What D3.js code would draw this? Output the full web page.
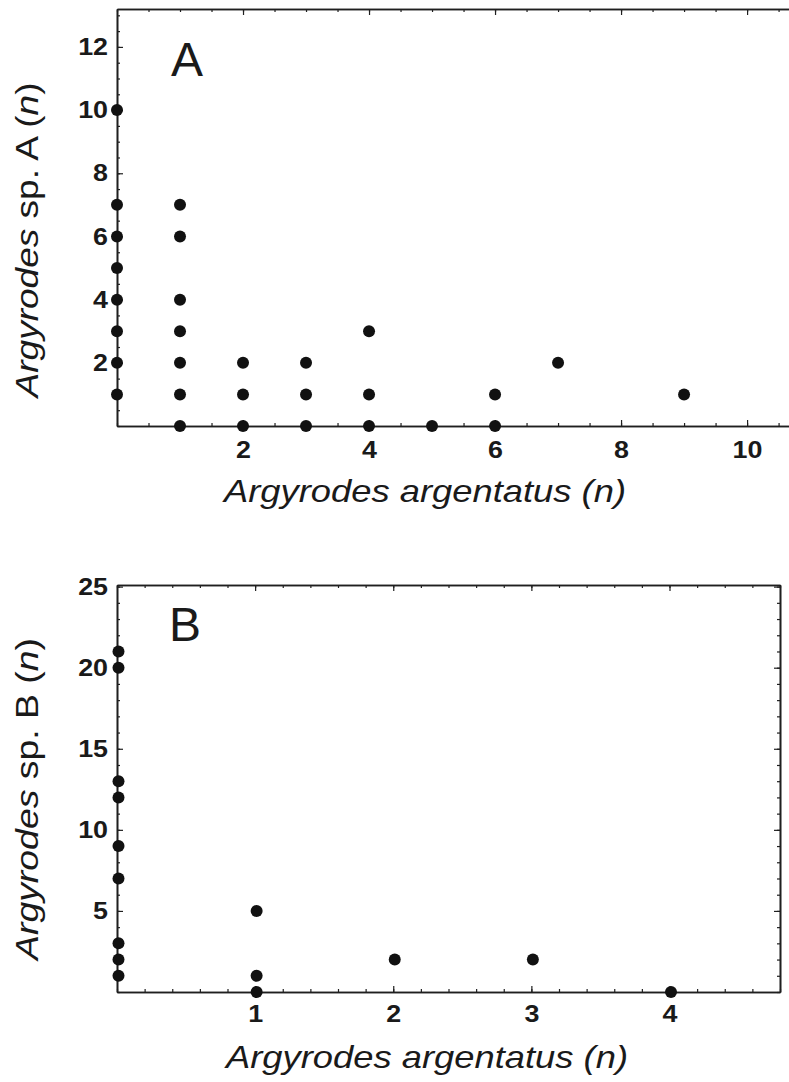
<!DOCTYPE html>
<html>
<head>
<meta charset="utf-8">
<script src="https://cdn.jsdelivr.net/npm/d3@7"></script>
<style>
  html, body { margin: 0; padding: 0; background: #fff; }
  svg { display: block; }
  text { font-family: "Liberation Sans", Arial, Helvetica, sans-serif; fill: #1a1a1a; }
</style>
</head>
<body>
<svg id="fig" width="789" height="1082"></svg>
<script>
// Panel A: counts of A. argentatus vs. Argyrodes sp. A per web
const aArgentatus = [0, 0, 0, 0, 0, 0, 0, 0, 1, 1, 1, 1, 1, 1, 1, 2, 2, 2, 3, 3, 3, 4, 4, 4, 5, 6, 6, 7, 9];
const aSpeciesA   = [10, 7, 6, 5, 4, 3, 2, 1, 7, 6, 4, 3, 2, 1, 0, 2, 1, 0, 2, 1, 0, 3, 1, 0, 0, 1, 0, 2, 1];

// Panel B: counts of A. argentatus vs. Argyrodes sp. B per web
const bArgentatus = [0, 0, 0, 0, 0, 0, 0, 0, 0, 1, 1, 1, 2, 3, 4];
const bSpeciesB   = [21, 20, 13, 12, 9, 7, 3, 2, 1, 5, 1, 0, 2, 2, 0];

// Labelled tick values
const aXTicks = [2, 4, 6, 8, 10];
const aYTicks = [2, 4, 6, 8, 10, 12];
const bXTicks = [1, 2, 3, 4];
const bYTicks = [5, 10, 15, 20, 25];

const svg = d3.select("#fig");
const INK = "#1f1f1f";

function drawPanel(cfg) {
  const g = svg.append("g");
  const x = d3.scaleLinear().domain(cfg.xDomain).range(cfg.xRange);
  const y = d3.scaleLinear().domain(cfg.yDomain).range(cfg.yRange);
  const [x0, x1] = cfg.xRange;
  const [y0, y1] = cfg.yRange;

  const style = sel => {
    sel.selectAll("path.domain").attr("stroke", INK).attr("stroke-width", 1.6);
    sel.selectAll(".tick line").attr("stroke", INK).attr("stroke-width", 1.2);
    sel.selectAll(".tick text")
      .attr("fill", INK)
      .attr("transform", "scale(1.12,1)")
      .style("font-size", "24px")
      .style("font-weight", "bold");
  };

  const minorX = d3.range(0, cfg.xDomain[1] + 1e-9, cfg.xMinor);
  const minorY = d3.range(0, cfg.yDomain[1] + 1e-9, cfg.yMinor);

  // minor ticks on every drawn side (inward)
  const minors = [
    [d3.axisBottom(x).tickValues(minorX), `translate(0,${y0})`, true],
    [d3.axisTop(x).tickValues(minorX), `translate(0,${y1})`, true],
    [d3.axisLeft(y).tickValues(minorY), `translate(${x0},0)`, true],
    [d3.axisRight(y).tickValues(minorY), `translate(${x1},0)`, cfg.rightAxis]
  ];
  minors.forEach(([ax, tr, on]) => {
    if (!on) return;
    g.append("g").attr("transform", tr)
      .call(ax.tickSize(-3).tickSizeOuter(0).tickFormat(""))
      .call(style);
  });

  // major ticks on top / right (inward, unlabelled)
  g.append("g").attr("transform", `translate(0,${y1})`)
    .call(d3.axisTop(x).tickValues(cfg.xMajor).tickSize(-6).tickSizeOuter(0).tickFormat(""))
    .call(style);
  if (cfg.rightAxis) {
    g.append("g").attr("transform", `translate(${x1},0)`)
      .call(d3.axisRight(y).tickValues(cfg.yMajor).tickSize(-6).tickSizeOuter(0).tickFormat(""))
      .call(style);
  }

  // labelled bottom and left axes
  g.append("g").attr("transform", `translate(0,${y0})`)
    .call(d3.axisBottom(x).tickValues(cfg.xTicks).tickSize(-6).tickSizeOuter(0)
      .tickPadding(cfg.xPad).tickFormat(d3.format("d")))
    .call(style);
  g.append("g").attr("transform", `translate(${x0},0)`)
    .call(d3.axisLeft(y).tickValues(cfg.yTicks).tickSize(-6).tickSizeOuter(0)
      .tickPadding(cfg.yPad).tickFormat(d3.format("d")))
    .call(style);

  // points
  g.append("g").selectAll("circle")
    .data(cfg.xs.map((v, i) => [v, cfg.ys[i]]))
    .join("circle")
    .attr("cx", d => x(d[0]) + cfg.dotShift)
    .attr("cy", d => y(d[1]))
    .attr("r", 6)
    .attr("fill", "#111");

  // panel letter
  g.append("text")
    .attr("x", cfg.letterPos[0]).attr("y", cfg.letterPos[1])
    .style("font-size", "48px")
    .text(cfg.letter);

  // x axis title
  const xt = g.append("text")
    .attr("x", cfg.xTitlePos[0]).attr("y", cfg.xTitlePos[1])
    .attr("text-anchor", "middle")
    .attr("textLength", 402).attr("lengthAdjust", "spacingAndGlyphs")
    .style("font-size", "32px").style("font-style", "italic");
  xt.append("tspan").text("Argyrodes argentatus (");
  xt.append("tspan").text("n");
  xt.append("tspan").text(")");

  // y axis title
  const yt = g.append("text")
    .attr("transform", `translate(${cfg.yTitlePos[0]},${cfg.yTitlePos[1]}) rotate(-90)`)
    .attr("text-anchor", "middle")
    .attr("textLength", cfg.yTitleLen).attr("lengthAdjust", "spacingAndGlyphs")
    .style("font-size", "32px");
  yt.append("tspan").style("font-style", "italic").text("Argyrodes");
  yt.append("tspan").text(` sp. ${cfg.letter} (`);
  yt.append("tspan").style("font-style", "italic").text("n");
  yt.append("tspan").text(")");
}

drawPanel({
  letter: "A",
  xs: aArgentatus, ys: aSpeciesA,
  xDomain: [0, 10.84], xRange: [117, 800],
  yDomain: [0, 13.2], yRange: [426, 9],
  xTicks: aXTicks, yTicks: aYTicks,
  xMajor: aXTicks, yMajor: aYTicks,
  xMinor: 0.5, yMinor: 0.5,
  xPad: 15, yPad: 8,
  rightAxis: false, dotShift: 0,
  letterPos: [171, 76],
  xTitlePos: [425, 502],
  yTitlePos: [38, 240], yTitleLen: 315
});

drawPanel({
  letter: "B",
  xs: bArgentatus, ys: bSpeciesB,
  xDomain: [0, 4.8], xRange: [117, 780],
  yDomain: [0, 25.1], yRange: [992, 585],
  xTicks: bXTicks, yTicks: bYTicks,
  xMajor: bXTicks, yMajor: bYTicks,
  xMinor: 0.2, yMinor: 1,
  xPad: 13, yPad: 8,
  rightAxis: true, dotShift: 1.5,
  letterPos: [169, 641],
  xTitlePos: [427, 1068],
  yTitlePos: [38, 799], yTitleLen: 322
});
</script>
</body>
</html>
